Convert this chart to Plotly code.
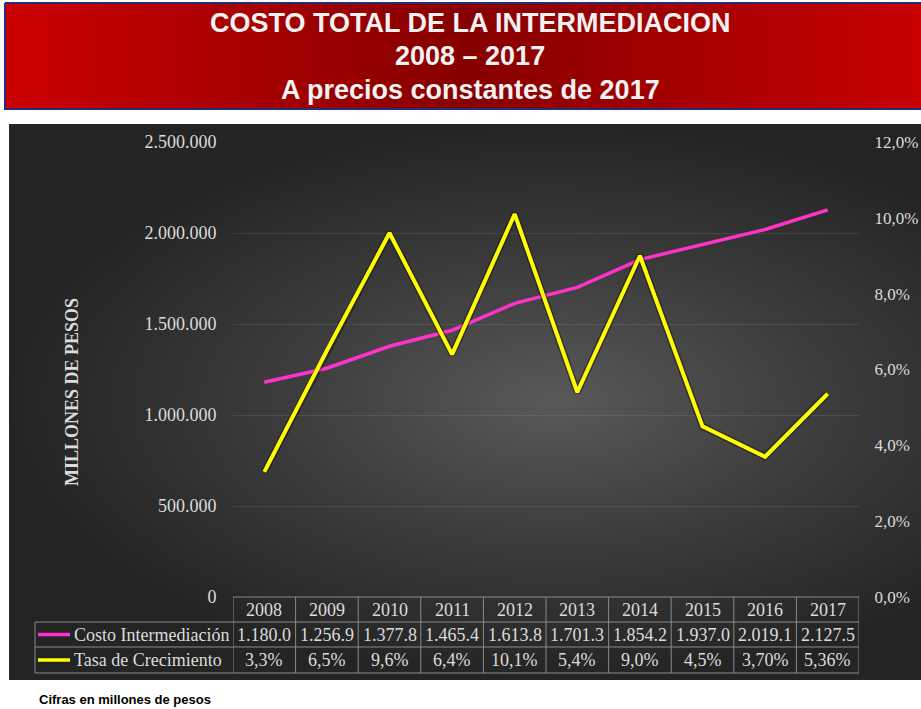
import plotly.graph_objects as go

# ---------------- data ----------------
years = ["2008", "2009", "2010", "2011", "2012", "2013", "2014", "2015", "2016", "2017"]
costo = [1180.0, 1256.9, 1377.8, 1465.4, 1613.8, 1701.3, 1854.2, 1937.0, 2019.1, 2127.5]  # miles de millones
tasa = [3.3, 6.5, 9.6, 6.4, 10.1, 5.4, 9.0, 4.5, 3.70, 5.36]  # %
costo_labels = ["1.180.0", "1.256.9", "1.377.8", "1.465.4", "1.613.8",
                "1.701.3", "1.854.2", "1.937.0", "2.019.1", "2.127.5"]
tasa_labels = ["3,3%", "6,5%", "9,6%", "6,4%", "10,1%", "5,4%", "9,0%", "4,5%", "3,70%", "5,36%"]
left_ticks = [0, 500000, 1000000, 1500000, 2000000, 2500000]
left_tick_text = ["0", "500.000", "1.000.000", "1.500.000", "2.000.000", "2.500.000"]
right_ticks = [0, 2, 4, 6, 8, 10, 12]
right_tick_text = ["0,0%", "2,0%", "4,0%", "6,0%", "8,0%", "10,0%", "12,0%"]
series_names = ["Costo Intermediación", "Tasa de Crecimiento"]
title_lines = ["COSTO TOTAL DE LA INTERMEDIACION", "2008 – 2017", "A precios constantes de 2017"]
y_title = "MILLONES DE PESOS"
footnote = "Cifras en millones de pesos"

# ---------------- styling ----------------
W, H = 921, 709
PINK = "#FF33CC"
YELLOW = "#FFFF00"
TXT = "#dcdcdc"
SERIF = "Liberation Serif, Times New Roman, serif"
SANS = "Liberation Sans, Arial, sans-serif"
GRID = "rgba(255,255,255,0.09)"
BORDER = "#8a8a8a"

PLOT_L, PLOT_R = 233, 859
PLOT_T, PLOT_B = 142, 597
ROW_LINES = [597, 622, 647, 673]
TABLE_L = 35


def px(x):
    return x / W


def py(y):
    return 1 - y / H


fig = go.Figure()

# ---- background decorations on a full-page pixel subplot ----
fig.add_trace(go.Scatter(
    x=[5, 925, 925, 5, 5], y=[3, 3, 109, 109, 3], mode="lines", fill="toself",
    fillgradient=dict(type="horizontal",
                      colorscale=[[0, "#cc0000"], [0.5, "#860000"], [1, "#c80000"]]),
    line=dict(color="#2b2b7e", width=2), hoverinfo="skip", showlegend=False,
    xaxis="x", yaxis="y"))
fig.add_trace(go.Scatter(
    x=[9, 1100, 1100, 9, 9], y=[124, 124, 680, 680, 124], mode="lines", fill="toself",
    fillgradient=dict(type="radial",
                      colorscale=[[0, "#595959"], [0.5, "#3c3c3c"], [1, "#242424"]]),
    line=dict(width=0, color="rgba(0,0,0,0)"), hoverinfo="skip", showlegend=False,
    xaxis="x", yaxis="y"))

# ---- data series ----
fig.add_trace(go.Scatter(
    x=years, y=[v * 1000 for v in costo], mode="lines", name=series_names[0],
    line=dict(color=PINK, width=3.5), xaxis="x2", yaxis="y2", showlegend=False))
fig.add_trace(go.Scatter(
    x=years, y=tasa, mode="lines", hoverinfo="skip",
    line=dict(color="rgba(0,0,0,0.35)", width=7), xaxis="x2", yaxis="y3", showlegend=False))
fig.add_trace(go.Scatter(
    x=years, y=tasa, mode="lines", name=series_names[1],
    line=dict(color=YELLOW, width=4), xaxis="x2", yaxis="y3", showlegend=False))

shapes = []
annotations = []

# ---- data table grid ----
shapes.append(dict(type="line", xref="paper", yref="paper", layer="above",
                   x0=px(PLOT_L), x1=px(PLOT_R), y0=py(ROW_LINES[0]), y1=py(ROW_LINES[0]),
                   line=dict(color=BORDER, width=1)))
for yl in ROW_LINES[1:]:
    shapes.append(dict(type="line", xref="paper", yref="paper", layer="above",
                       x0=px(TABLE_L), x1=px(PLOT_R), y0=py(yl), y1=py(yl),
                       line=dict(color=BORDER, width=1)))
shapes.append(dict(type="line", xref="paper", yref="paper", layer="above",
                   x0=px(TABLE_L), x1=px(TABLE_L), y0=py(ROW_LINES[1]), y1=py(ROW_LINES[3]),
                   line=dict(color=BORDER, width=1)))
for i in range(len(years) + 1):
    shapes.append(dict(type="line", xref="x2", yref="paper", layer="above",
                       x0=i - 0.5, x1=i - 0.5, y0=py(ROW_LINES[0]), y1=py(ROW_LINES[3]),
                       line=dict(color=BORDER, width=1)))

row_centers = [(ROW_LINES[k] + ROW_LINES[k + 1]) / 2 for k in range(3)]
for k, col in enumerate([PINK, YELLOW]):
    shapes.append(dict(type="line", xref="paper", yref="paper", layer="above",
                       x0=px(38), x1=px(70), y0=py(row_centers[k + 1]), y1=py(row_centers[k + 1]),
                       line=dict(color=col, width=3.5)))
    annotations.append(dict(text=series_names[k], xref="paper", yref="paper",
                            x=px(72), y=py(row_centers[k + 1]), xanchor="left", yanchor="middle",
                            showarrow=False, font=dict(family=SERIF, size=18, color=TXT)))

for row, labels in enumerate([years, costo_labels, tasa_labels]):
    for i, lab in enumerate(labels):
        annotations.append(dict(text=lab, xref="x2", yref="paper", x=i, y=py(row_centers[row]),
                                xanchor="center", yanchor="middle", showarrow=False,
                                font=dict(family=SERIF, size=18, color=TXT)))

# ---- titles ----
for line, yc in zip(title_lines, [23, 56, 90]):
    annotations.append(dict(text="<b>" + line + "</b>", xref="paper", yref="paper",
                            x=px(470), y=py(yc), xanchor="center", yanchor="middle",
                            showarrow=False, font=dict(family=SANS, size=27, color="#f2f2f2")))

annotations.append(dict(text="<b>" + y_title + "</b>", xref="paper", yref="paper",
                        x=px(72), y=py(392), textangle=-90, xanchor="center", yanchor="middle",
                        showarrow=False, font=dict(family=SERIF, size=18, color=TXT)))

annotations.append(dict(text="<b>" + footnote + "</b>", xref="paper", yref="paper",
                        x=px(37), y=py(699), xanchor="left", yanchor="middle", showarrow=False,
                        font=dict(family=SANS, size=13, color="#000000")))

tickfont = dict(family=SERIF, size=18, color=TXT)
tickfont_r = dict(family=SERIF, size=17, color=TXT)

fig.update_layout(
    width=W, height=H,
    autosize=False,
    margin=dict(l=0, r=0, t=0, b=0, pad=0, autoexpand=False),
    paper_bgcolor="white",
    plot_bgcolor="rgba(0,0,0,0)",
    showlegend=False,
    xaxis=dict(domain=[0, 1], range=[0, W], visible=False, fixedrange=True, automargin=False),
    yaxis=dict(domain=[0, 1], range=[H, 0], visible=False, fixedrange=True, automargin=False),
    xaxis2=dict(domain=[px(PLOT_L), px(PLOT_R)], anchor="y2", type="category",
                range=[-0.5, len(years) - 0.5], showticklabels=False, showgrid=False,
                zeroline=False, showline=False, ticks="", automargin=False),
    yaxis2=dict(domain=[py(PLOT_B), py(PLOT_T)], anchor="x2", range=[0, 2500000],
                tickvals=left_ticks, ticktext=left_tick_text, showgrid=True, gridcolor=GRID,
                gridwidth=1, zeroline=False, showline=False, tickfont=tickfont,
                ticks="outside", ticklen=12, tickcolor="rgba(0,0,0,0)", automargin=False),
    yaxis3=dict(overlaying="y2", side="right", anchor="x2", range=[0, 12],
                tickvals=right_ticks, ticktext=right_tick_text, showgrid=False,
                zeroline=False, showline=False, tickfont=tickfont_r,
                ticks="outside", ticklen=11, tickcolor="rgba(0,0,0,0)", automargin=False),
    shapes=shapes,
    annotations=annotations,
)

page_fix = (
    "document.documentElement.style.overflow='hidden';"
    "document.body.style.margin='0px';"
    "document.body.style.overflow='hidden';"
)
fig.write_html("out.html", config={"responsive": False, "displayModeBar": False},
               post_script=page_fix)
